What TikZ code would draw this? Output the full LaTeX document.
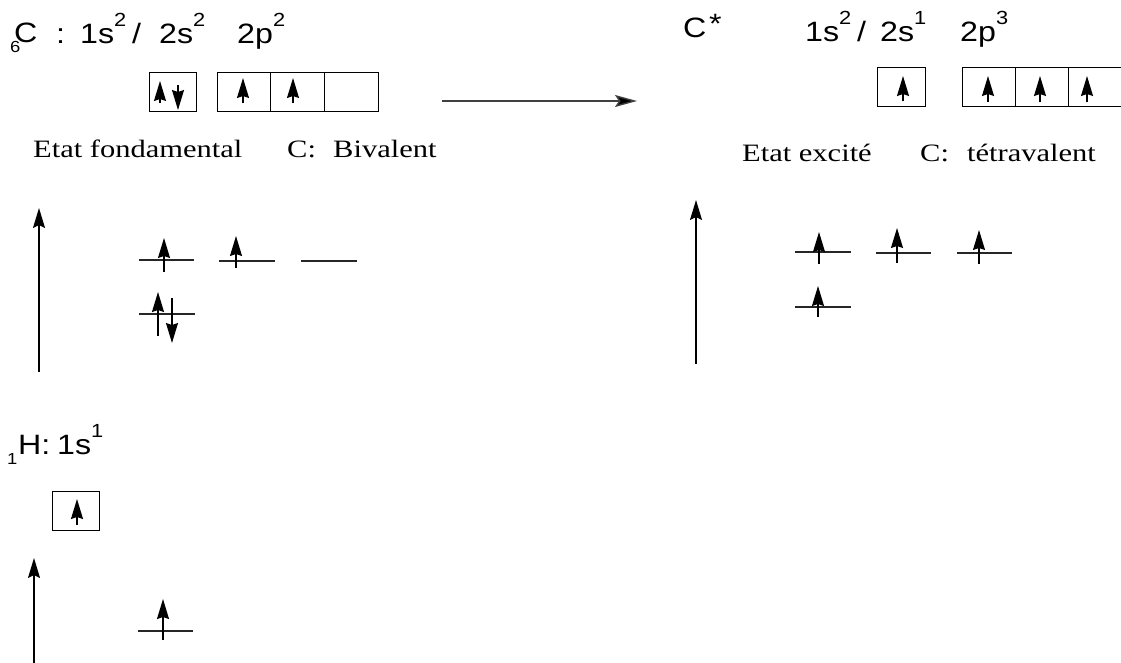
\documentclass[tikz,border=0pt]{standalone}
\usepackage{fontspec}
\newfontfamily\sansf{Liberation Sans}[FakeStretch=1.15]
\newfontfamily\seriff{Liberation Serif}[FakeStretch=1.22]
\usetikzlibrary{arrows.meta}
\newcommand{\sups}[1]{\raisebox{17pt}{\sansf\fontsize{19}{19}\selectfont #1}}
\begin{document}
\begin{tikzpicture}[x=1pt,y=-1pt,
  sans/.style={font=\sansf\fontsize{28}{30}\selectfont, inner sep=0pt, anchor=base west},
  small/.style={font=\sansf\fontsize{16}{16}\selectfont, inner sep=0pt, anchor=base west},
  serif/.style={font=\seriff\fontsize{25}{28}\selectfont, inner sep=0pt, anchor=base west},
  orb/.style={draw, line width=1.3pt, inner sep=0pt, anchor=north west, minimum height=39pt},
  elec/.style={line width=1.3pt, -{Stealth[length=20pt,width=12pt,inset=2pt]}},
  axis/.style={line width=1.5pt, -{Stealth[length=20pt,width=12pt,inset=3pt]}},
  level/.style={line width=1.5pt, draw=black!85}]
\useasboundingbox (0,0) rectangle (1121,662);
\clip (0,0) rectangle (1121,662);
% ---- ground-state carbon configuration
\node[sans] (c6) at (14,42) {C};
\node[small] (z6) at (10,52) {6};
\node[sans] (colon) at (56,43) {:};
\node[sans] (l1s) at (80,43) {1s\sups{2}};
\node[sans] (lsl) at (132,43) {/};
\node[sans] (l2s) at (159,43) {2s\sups{2}};
\node[sans] (l2p) at (237,43) {2p\sups{2}};
% boxes
\node[orb, minimum width=47pt] (b2s) at (149,72) {};
\node[orb, minimum width=53pt] (b2pa) at (217,72) {};
\node[orb, minimum width=54pt] (b2pb) at (270,72) {};
\node[orb, minimum width=54pt] (b2pc) at (324,72) {};
\draw[elec] (160,103) -- (160,81);
\draw[elec] (178,85) -- (178,110);
\draw[elec] (243,103) -- (243,78);
\draw[elec] (293,103) -- (293,78);
\node[serif] (ef) at (33,157) {Etat fondamental};
\node[serif] (cb) at (287,157) {C:};
\node[serif] (bi) at (333,157) {Bivalent};
% ---- transition arrow
\coordinate (ta) at (442,101);
\coordinate (tb) at (637,101);
\draw[line width=1.4pt, draw=black!75, -{Stealth[length=22pt,width=12pt,inset=4pt,fill=black]}] (ta) -- (tb);
% ---- excited carbon configuration
\node[sans] (cs) at (683,37) {C};
\node[sans] (star) at (709,33) {*};
\node[sans] (r1s) at (805,41) {1s\sups{2}};
\node[sans] (rsl) at (857,41) {/};
\node[sans] (r2s) at (880,41) {2s\sups{1}};
\node[sans] (r2p) at (960,41) {2p\sups{3}};
\node[orb, minimum width=48pt] (e2s) at (877,67) {};
\node[orb, minimum width=53pt] (e2pa) at (962,67) {};
\node[orb, minimum width=53pt] (e2pb) at (1015,67) {};
\node[orb, minimum width=60pt] (e2pc) at (1068,67) {};
\draw[elec] (903,101) -- (903,76);
\draw[elec] (988,102) -- (988,76);
\draw[elec] (1040,102) -- (1040,76);
\draw[elec] (1087,102) -- (1087,76);
\node[serif] (ee) at (742,161) {Etat excité};
\node[serif] (ct) at (920,161) {C:};
\node[serif] (tv) at (967,161) {tétravalent};
% ---- ground-state energy diagram
\coordinate (ga0) at (39,372);
\coordinate (ga1) at (39,208);
\draw[axis] (ga0) -- (ga1);
\draw[level] (139,260) -- (194,260);
\draw[level] (219,261) -- (275,261);
\draw[level] (301,261) -- (357,261);
\draw[level] (139,314) -- (195,314);
\draw[elec] (164,272) -- (164,238);
\draw[elec] (236,268) -- (236,236);
\draw[elec] (158,336) -- (158,292);
\draw[elec] (172,298) -- (172,343);
% ---- excited energy diagram
\coordinate (ea0) at (696,364);
\coordinate (ea1) at (696,200);
\draw[axis] (ea0) -- (ea1);
\draw[level] (795,252) -- (851,252);
\draw[level] (876,253) -- (931,253);
\draw[level] (957,253) -- (1012,253);
\draw[level] (795,307) -- (851,307);
\draw[elec] (819,264) -- (819,232);
\draw[elec] (897,263) -- (897,228);
\draw[elec] (979,264) -- (979,230);
\draw[elec] (818,317) -- (818,286);
% ---- hydrogen
\node[small] (z1) at (7,464) {1};
\node[sans] (hh) at (18,454) {H:};
\node[sans] (h1s) at (57,454) {1s\sups{1}};
\node[orb, minimum width=47pt] (hb) at (52,491) {};
\draw[elec] (77,525) -- (77,499);
\coordinate (ha0) at (34,664);
\coordinate (ha1) at (34,558);
\draw[axis] (ha0) -- (ha1);
\draw[level] (138,631) -- (193,631);
\draw[elec] (163,640) -- (163,599);
\end{tikzpicture}
\end{document}
